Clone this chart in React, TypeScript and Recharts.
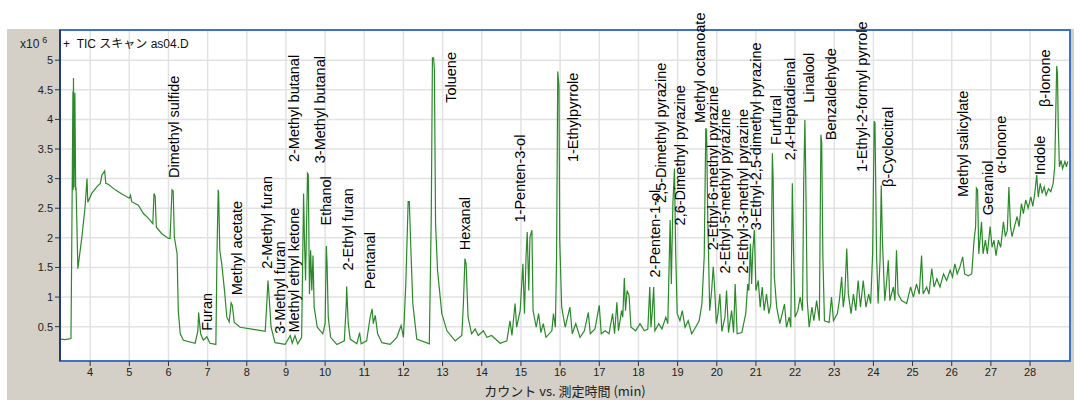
import React from 'react';
import { ComposedChart, Line, Scatter, XAxis, YAxis, CartesianGrid, ReferenceArea } from 'recharts';

// TIC trace, [retention time (min), counts x10^6]
const TRACE_EARLY: [number, number][] = [
  [3.24, 0.29], [3.36, 0.28], [3.51, 0.3], [3.53, 1.85], [3.56, 4.47], [3.565, 2.81], [3.574, 4.7],
  [3.59, 2.85], [3.61, 4.45], [3.63, 2.81], [3.64, 2.85], [3.686, 1.48], [3.79, 2.02], [3.87, 2.52],
  [3.92, 3.0], [3.94, 2.6], [4.04, 2.75], [4.17, 2.86], [4.26, 2.92], [4.3, 3.06], [4.37, 3.13],
  [4.4, 2.92], [4.47, 2.9], [4.64, 2.81], [4.81, 2.74], [5.0, 2.67], [5.03, 2.72], [5.06, 2.61],
  [5.23, 2.55], [5.36, 2.41], [5.49, 2.33], [5.6, 2.24], [5.63, 2.75], [5.66, 2.7], [5.69, 2.18],
  [5.83, 2.07], [6.0, 1.99], [6.04, 1.99], [6.09, 2.81], [6.12, 2.79], [6.15, 2.01], [6.22, 1.73],
  [6.25, 0.77], [6.3, 0.38], [6.38, 0.27], [6.68, 0.22], [6.75, 0.43], [6.77, 0.74], [6.82, 0.38],
  [6.89, 0.27], [6.98, 0.33], [7.06, 0.22], [7.21, 0.2], [7.24, 1.79], [7.27, 2.81], [7.28, 2.76],
  [7.31, 1.79], [7.36, 1.56], [7.43, 1.11], [7.49, 0.66], [7.55, 0.58], [7.6, 0.9], [7.63, 0.86],
  [7.68, 0.57], [7.83, 0.49], [8.21, 0.45], [8.47, 0.42], [8.51, 0.88], [8.54, 1.28], [8.57, 1.0],
  [8.62, 0.49], [8.72, 0.23], [8.98, 0.2], [9.11, 0.35], [9.16, 0.22], [9.23, 0.35], [9.3, 0.21],
];

const TRACE_MIDDLE: [number, number][] = [
  [9.4, 0.32], [9.45, 2.75], [9.47, 2.04], [9.5, 1.28], [9.55, 3.09], [9.57, 3.07], [9.6, 1.05],
  [9.63, 1.79], [9.66, 1.11], [9.69, 1.7], [9.72, 0.83], [9.8, 0.49], [9.94, 0.38], [10.0, 0.55],
  [10.03, 1.86], [10.05, 1.56], [10.08, 0.66], [10.14, 0.32], [10.3, 0.2], [10.49, 0.26], [10.54, 0.88],
  [10.55, 1.18], [10.59, 0.55], [10.64, 0.29], [10.81, 0.21], [10.88, 0.4], [10.92, 0.21], [11.06, 0.26],
  [11.15, 0.66], [11.2, 0.8], [11.23, 0.55], [11.28, 0.69], [11.34, 0.38], [11.45, 0.23], [11.66, 0.2],
  [11.83, 0.32], [11.94, 0.52], [12.0, 0.32], [12.06, 1.22], [12.12, 2.61], [12.15, 2.61], [12.19, 1.79],
  [12.24, 0.88], [12.34, 0.29], [12.66, 0.21], [12.71, 2.35], [12.74, 5.04], [12.77, 5.04], [12.79, 4.84],
  [12.82, 2.24], [12.87, 1.45], [12.98, 0.72], [13.11, 0.43], [13.32, 0.26], [13.49, 0.35], [13.53, 0.88],
  [13.57, 1.65], [13.6, 1.56], [13.65, 0.66], [13.74, 0.38], [13.83, 0.46], [13.91, 0.35], [14.04, 0.43],
  [14.13, 0.32], [14.25, 0.35], [14.47, 0.22], [14.64, 0.26], [14.72, 0.6], [14.77, 0.35], [14.85, 0.89],
  [14.89, 0.49], [14.98, 0.77], [15.05, 1.56], [15.09, 0.72], [15.13, 1.68], [15.16, 2.1], [15.2, 1.11],
  [15.23, 2.01], [15.28, 2.13], [15.31, 0.77], [15.39, 0.49], [15.45, 0.72], [15.51, 0.4], [15.57, 0.55],
  [15.64, 0.32], [15.79, 0.43], [15.83, 0.72], [15.88, 0.49], [15.91, 1.68],
];

const TRACE_LATE: [number, number][] = [
  [15.94, 4.81], [15.97, 4.56], [15.99, 1.96], [16.04, 0.83], [16.13, 0.49], [16.25, 0.83], [16.31, 0.38],
  [16.4, 0.55], [16.51, 0.32], [16.62, 0.43], [16.72, 0.74], [16.77, 0.38], [16.89, 0.46], [17.0, 0.86],
  [17.05, 0.38], [17.15, 0.43], [17.25, 0.38], [17.34, 0.72], [17.39, 0.38], [17.45, 0.91], [17.49, 0.43],
  [17.57, 0.77], [17.6, 0.66], [17.64, 1.32], [17.67, 0.77], [17.71, 1.11], [17.76, 1.03], [17.81, 0.49],
  [17.93, 0.43], [18.04, 0.55], [18.15, 0.43], [18.24, 0.46], [18.29, 1.17], [18.32, 0.49], [18.35, 0.72],
  [18.39, 1.17], [18.42, 0.43], [18.52, 0.55], [18.6, 0.46], [18.7, 0.66], [18.75, 0.55], [18.81, 2.3],
  [18.84, 1.22], [18.88, 2.58], [18.92, 3.17], [18.95, 1.79], [18.99, 0.72], [19.06, 0.6], [19.12, 0.77],
  [19.19, 0.49], [19.27, 0.6], [19.36, 0.38], [19.46, 0.49], [19.55, 0.6], [19.62, 0.88], [19.68, 1.68],
  [19.72, 3.85], [19.74, 3.82], [19.77, 2.35], [19.82, 0.77], [19.87, 1.11], [19.91, 1.51], [19.94, 1.22],
  [19.99, 0.55], [20.03, 0.72], [20.08, 1.05], [20.13, 0.42], [20.21, 0.66], [20.25, 1.11], [20.3, 0.4],
  [20.38, 0.77], [20.43, 0.4], [20.47, 1.22], [20.52, 0.38], [20.64, 0.4], [20.74, 0.72], [20.79, 1.22],
  [20.82, 1.11], [20.86, 1.9], [20.89, 1.22], [20.92, 1.79], [20.96, 2.13], [21.0, 1.11], [21.06, 1.28],
  [21.11, 0.83], [21.16, 1.17], [21.21, 0.77], [21.27, 1.05], [21.33, 0.72], [21.38, 0.88], [21.42, 3.43],
  [21.44, 2.98], [21.47, 1.34], [21.53, 0.83], [21.61, 0.55], [21.73, 0.88], [21.78, 0.49], [21.85, 0.66],
  [21.89, 0.49], [21.93, 2.92], [21.96, 1.79], [22.0, 0.66], [22.07, 0.77], [22.13, 1.0], [22.19, 0.77],
  [22.22, 2.92],
];

const TRACE_END: [number, number][] = [
  [22.25, 3.99], [22.27, 3.15], [22.31, 0.94], [22.36, 0.49], [22.43, 0.83], [22.48, 0.6], [22.55, 0.94],
  [22.62, 0.6], [22.66, 3.74], [22.68, 3.6], [22.71, 1.68], [22.75, 0.6], [22.87, 0.57], [22.93, 1.0],
  [22.98, 0.6], [23.08, 0.72], [23.13, 0.94], [23.19, 1.34], [23.23, 0.83], [23.27, 1.05], [23.32, 1.82],
  [23.36, 1.05], [23.43, 0.72], [23.49, 1.05], [23.55, 0.77], [23.61, 1.28], [23.67, 0.83], [23.74, 1.28],
  [23.81, 0.83], [23.88, 1.05], [23.93, 0.89], [23.98, 1.73], [24.02, 3.97], [24.04, 3.94], [24.08, 1.73],
  [24.12, 0.89], [24.17, 1.62], [24.2, 2.89], [24.23, 1.96], [24.29, 0.94], [24.34, 1.28], [24.38, 1.62],
  [24.42, 0.94], [24.51, 1.17], [24.55, 0.94], [24.59, 1.79], [24.63, 1.05], [24.72, 0.94], [24.85, 0.89],
  [24.95, 1.17], [25.02, 1.0], [25.1, 1.22], [25.17, 1.05], [25.23, 1.7], [25.27, 1.05], [25.36, 1.17],
  [25.42, 1.05], [25.49, 1.48], [25.55, 1.17], [25.62, 1.31], [25.7, 1.17], [25.79, 1.39], [25.87, 1.28],
  [25.96, 1.45], [26.02, 1.34], [26.08, 1.56], [26.14, 1.39], [26.21, 1.51], [26.28, 1.68], [26.33, 1.39],
  [26.42, 1.36], [26.51, 1.39], [26.57, 1.96], [26.61, 2.19], [26.63, 2.84], [26.66, 2.81], [26.69, 1.73],
  [26.73, 2.02], [26.76, 2.27], [26.8, 1.73], [26.86, 1.96], [26.91, 1.73], [26.98, 2.19], [27.03, 1.84],
  [27.08, 1.96], [27.13, 1.7], [27.19, 1.96], [27.25, 1.84], [27.32, 2.27], [27.37, 2.02], [27.42, 2.13],
  [27.46, 2.86], [27.5, 2.19], [27.54, 2.02], [27.61, 2.21], [27.67, 2.36], [27.72, 2.19], [27.78, 2.58],
  [27.83, 2.41], [27.89, 2.64], [27.95, 2.5], [28.02, 2.69], [28.07, 2.53], [28.12, 2.75], [28.17, 3.06],
  [28.21, 2.69], [28.26, 2.92], [28.31, 2.75], [28.36, 2.86], [28.41, 2.72], [28.47, 2.83], [28.53, 2.78],
  [28.59, 2.92], [28.63, 3.2], [28.65, 3.88], [28.68, 4.9], [28.7, 4.78], [28.72, 3.88], [28.75, 3.2],
  [28.79, 3.31], [28.83, 3.17], [28.89, 3.29], [28.93, 3.2], [28.96, 3.29],
];

// peak annotations: name, time of label, height where the label text starts
const COMPOUNDS = [
  'Dimethyl sulfide', 'Furan', 'Methyl acetate', '2-Methyl furan', '3-Methyl furan', 'Methyl ethyl ketone',
  '2-Methyl butanal', '3-Methyl butanal', 'Ethanol', '2-Ethyl furan', 'Pentanal', 'Toluene', 'Hexanal',
  '1-Penten-3-ol', '1-Ethylpyrrole', '2-Penten-1-ol', '2,5-Dimethyl pyrazine', '2,6-Dimethyl pyrazine',
  'Methyl octanoate', '2-Ethyl-6-methyl pyrazine', '2-Ethyl-5-methyl pyrazine', '2-Ethyl-3-methyl pyrazine',
  '3-Ethyl-2,5-dimethyl pyrazine', 'Furfural', '2,4-Heptadienal', 'Linalool', 'Benzaldehyde',
  '1-Ethyl-2-formyl pyrrole', 'β-Cyclocitral', 'Methyl salicylate', 'Geraniol', 'α-Ionone', 'Indole', 'β-Ionone',
];
const LABEL_TIMES = [
  6.17, 7.01, 7.79, 8.54, 8.89, 9.23, 9.23, 9.9, 10.06, 10.61, 11.17, 13.24, 13.6, 15.0, 16.36, 18.45, 18.6,
  19.09, 19.62, 19.94, 20.25, 20.7, 21.04, 21.56, 21.91, 22.38, 22.94, 23.75, 24.42, 26.33, 26.95, 27.3, 28.28,
  28.41,
];
const LABEL_BASES = [
  3.01, 0.43, 1.03, 1.48, 0.38, 0.4, 3.28, 3.26, 2.21, 1.45, 1.13, 4.28, 1.79, 2.26, 3.28, 1.33, 2.59, 2.21,
  3.94, 1.79, 1.4, 1.4, 2.13, 3.57, 3.31, 4.28, 3.65, 3.11, 2.86, 2.69, 2.38, 3.09, 3.06, 4.21,
];

const X_TICKS = [4, 5, 6, 7, 8, 9, 10, 11, 12, 13, 14, 15, 16, 17, 18, 19, 20, 21, 22, 23, 24, 25, 26, 27, 28];
const Y_TICKS = [0.5, 1, 1.5, 2, 2.5, 3, 3.5, 4, 4.5, 5];
const X_DOMAIN: [number, number] = [3.23, 29.02];
const Y_DOMAIN: [number, number] = [-0.08, 5.51];

const trace = [...TRACE_EARLY, ...TRACE_MIDDLE, ...TRACE_LATE, ...TRACE_END].map(([t, v]) => ({ t, v }));
const labels = COMPOUNDS.map((name, i) => ({ name, t: LABEL_TIMES[i], v: LABEL_BASES[i] }));

const SANS = '"Liberation Sans", Arial, "Noto Sans CJK JP", sans-serif';
const BLUE = '#3f72c4';

function PeakLabel(props: any) {
  const { cx, cy, payload } = props;
  if (cx == null || cy == null) return null;
  return (
    <text
      x={cx}
      y={cy}
      dy="0.25em"
      transform={`rotate(-90 ${cx} ${cy})`}
      textAnchor="start"
      fontSize={14.5}
      fontFamily={SANS}
      fill="#000"
    >
      {payload.name}
    </text>
  );
}

export default function App() {
  return (
    <div style={{ position: 'absolute', left: 0, top: 0, width: 1082, height: 409, background: '#fff', fontFamily: SANS }}>
      <div style={{ position: 'absolute', left: 7, top: 29, width: 1067, height: 371, background: '#d4d0c8' }} />
      <div style={{ position: 'absolute', left: 0, top: 0 }}>
        <ComposedChart width={1082} height={409} margin={{ top: 30, right: 12, bottom: 18, left: 10 }}>
          <CartesianGrid fill="#fff" stroke="#e2e2e2" strokeWidth={1.5} />
          <XAxis
            type="number"
            dataKey="t"
            domain={X_DOMAIN}
            ticks={X_TICKS}
            height={30}
            tickSize={5}
            tickLine={{ stroke: '#333' }}
            axisLine={{ stroke: BLUE, strokeWidth: 2 }}
            tick={{ fontSize: 11, fill: '#222', fontFamily: SANS }}
          />
          <YAxis
            type="number"
            domain={Y_DOMAIN}
            ticks={Y_TICKS}
            width={50}
            tickSize={5}
            tickLine={{ stroke: '#333' }}
            axisLine={{ stroke: '#1d3c78', strokeWidth: 2 }}
            tick={{ fontSize: 11, fill: '#222', fontFamily: SANS }}
          />
          <Line
            data={trace}
            dataKey="v"
            type="linear"
            stroke="#2a8a2a"
            strokeWidth={1.2}
            dot={false}
            isAnimationActive={false}
          />
          <ReferenceArea
            x1={X_DOMAIN[0]}
            x2={X_DOMAIN[1]}
            y1={Y_DOMAIN[0]}
            y2={Y_DOMAIN[1]}
            fill="none"
            stroke={BLUE}
            strokeWidth={2}
            ifOverflow="extendDomain"
          />
          <Scatter data={labels} dataKey="v" shape={PeakLabel} isAnimationActive={false} />
        </ComposedChart>
      </div>
      <div style={{ position: 'absolute', left: 20, top: 37, fontSize: 12, lineHeight: '15px', color: '#222' }}>
        x10<span style={{ position: 'relative', top: -5, left: 3, fontSize: 9 }}>6</span>
      </div>
      <div style={{ position: 'absolute', left: 63, top: 37, fontSize: 12, lineHeight: '15px', color: '#111', whiteSpace: 'nowrap' }}>
        +&nbsp;&nbsp;TIC スキャン as04.D
      </div>
      <div
        style={{
          position: 'absolute',
          left: 465,
          width: 200,
          top: 382,
          textAlign: 'center',
          fontSize: 13,
          lineHeight: '18px',
          color: '#222',
          fontFamily: '"Noto Sans CJK JP", sans-serif',
          whiteSpace: 'nowrap',
        }}
      >
        カウント vs. 測定時間 (min)
      </div>
    </div>
  );
}
